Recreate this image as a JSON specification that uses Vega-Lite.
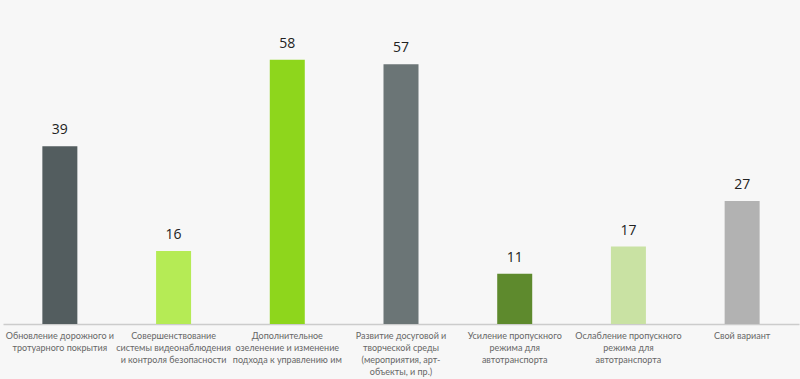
{
  "$schema": "https://vega.github.io/schema/vega-lite/v6.json",
  "autosize": {"type": "none"},
  "width": 796,
  "height": 319,
  "padding": {"left": 3, "top": 5, "right": 1, "bottom": 55},
  "background": "#f7f7f7",
  "config": {"view": {"stroke": null}, "font": "Open Sans"},
  "data": {"values": [
    {"cat": "Обновление дорожного и\nтротуарного покрытия", "value": 39, "color": "#535d5f"},
    {"cat": "Совершенствование\nсистемы видеонаблюдения\nи контроля безопасности", "value": 16, "color": "#b5eb55"},
    {"cat": "Дополнительное\nозеленение и изменение\nподхода к управлению им", "value": 58, "color": "#8ed61c"},
    {"cat": "Развитие досуговой и\nтворческой среды\n(мероприятия, арт-\nобъекты, и пр.)", "value": 57, "color": "#6b7576"},
    {"cat": "Усиление пропускного\nрежима для\nавтотранспорта", "value": 11, "color": "#5e8a2d"},
    {"cat": "Ослабление пропускного\nрежима для\nавтотранспорта", "value": 17, "color": "#c9e2a3"},
    {"cat": "Свой вариант", "value": 27, "color": "#b2b2b2"}
  ]},
  "encoding": {
    "x": {"field": "cat", "type": "nominal", "sort": null,
      "scale": {"paddingInner": 0.68, "paddingOuter": 0.34},
      "axis": {"title": null, "labelAngle": 0, "ticks": false, "domainColor": "#cccccc", "domainWidth": 1.5,
        "labelExpr": "split(datum.label, '\\n')", "labelLineHeight": 12, "labelFontSize": 9,
        "labelColor": "#666666", "labelPadding": 7, "labelLimit": 200, "labelFont": "Lato"}},
    "y": {"field": "value", "type": "quantitative", "scale": {"domain": [0, 70]}, "axis": null}
  },
  "layer": [
    {"mark": {"type": "bar", "size": 35}, "encoding": {"color": {"field": "color", "type": "nominal", "scale": null}}},
    {"mark": {"type": "text", "baseline": "bottom", "dy": -9, "fontSize": 14, "color": "#222222"},
     "encoding": {"text": {"field": "value", "type": "quantitative"}}}
  ]
}
